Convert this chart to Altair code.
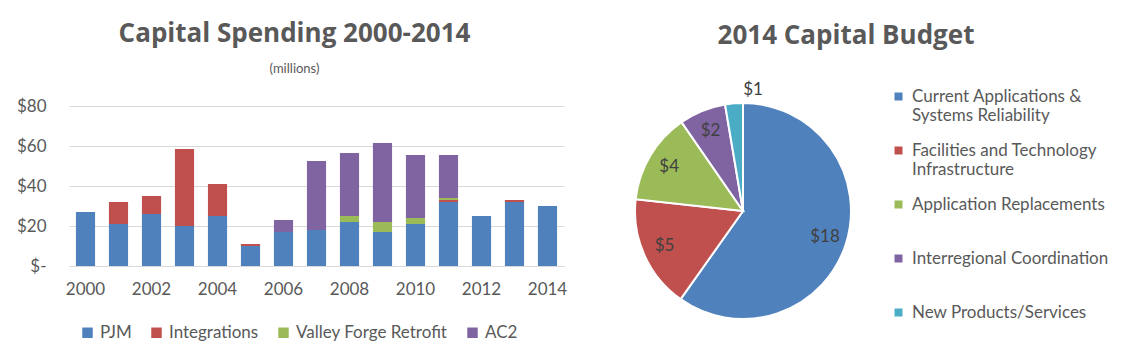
import altair as alt
import pandas as pd

years = [2000, 2001, 2002, 2003, 2004, 2005, 2006, 2007, 2008, 2009, 2010, 2011, 2012, 2013, 2014]
pjm = [27, 21, 26, 20, 25, 10, 17, 18, 22, 17, 21, 32, 25, 32, 30]
integrations = [0, 11, 9, 38.5, 16, 1, 0, 0, 0, 0, 0, 1, 0, 1, 0]
valley_forge = [0, 0, 0, 0, 0, 0, 0, 0, 3, 5, 3, 1, 0, 0, 0]
ac2 = [0, 0, 0, 0, 0, 0, 6, 34.5, 31.5, 39.5, 31.5, 21.5, 0, 0, 0]

series_names = ["PJM", "Integrations", "Valley Forge Retrofit", "AC2"]
series_colors = ["#4F81BD", "#C0504D", "#9BBB59", "#8064A2"]

budget_cats = [
    "Current Applications &\nSystems Reliability",
    "Facilities and Technology\nInfrastructure",
    "Application Replacements",
    "Interregional Coordination",
    "New Products/Services",
]
budget_vals = [18.0, 5.1, 4.1, 2.1, 0.8]
budget_colors = ["#4F81BD", "#C0504D", "#9BBB59", "#8064A2", "#4BACC6"]

FONT = "Lato"
TFONT = "Open Sans"
GREY = "#595959"

rows = []
for si, (name, vals) in enumerate(zip(series_names, [pjm, integrations, valley_forge, ac2])):
    for y, v in zip(years, vals):
        rows.append({"year": y, "series": name, "value": v, "s_order": si})
bar_df = pd.DataFrame(rows)

pie_df = pd.DataFrame({"cat": budget_cats, "value": budget_vals,
                       "idx": list(range(len(budget_cats)))})

bars = alt.Chart(bar_df).mark_bar().encode(
    x=alt.X("year:O", scale=alt.Scale(paddingInner=0.42, paddingOuter=0.21),
            axis=alt.Axis(title=None, labelAngle=0, ticks=False, domainColor="#D9D9D9",
                          labelExpr="datum.value % 2 == 0 ? datum.label : ''",
                          labelFontSize=17, labelColor=GREY, labelPadding=15, labelFont=FONT)),
    y=alt.Y("value:Q", stack="zero", scale=alt.Scale(domain=[0, 80]),
            axis=alt.Axis(title=None, values=[0, 20, 40, 60, 80], domain=False, ticks=False,
                          gridColor="#D9D9D9", labelFontSize=17, labelColor=GREY, labelFont=FONT,
                          labelPadding=23, minExtent=50, maxExtent=50,
                          labelExpr="datum.value == 0 ? '$-\u00a0\u00a0' : '$' + datum.value")),
    color=alt.Color("series:N", scale=alt.Scale(domain=series_names, range=series_colors),
                    legend=alt.Legend(title=None, orient="none", direction="horizontal",
                                      legendX=10, legendY=218, symbolType="square",
                                      symbolSize=110, symbolStrokeWidth=0, labelFontSize=17,
                                      labelColor=GREY, labelFont=FONT, columnPadding=16,
                                      labelOffset=4)),
    order=alt.Order("s_order:Q"),
).properties(
    width=495, height=160,
    title=alt.TitleParams("Capital Spending 2000-2014", subtitle="(millions)", anchor="middle",
                          dx=-22, fontSize=26, font=TFONT, fontWeight="bold", color=GREY,
                          subtitleFontSize=13, subtitleFont=FONT, subtitleColor=GREY,
                          subtitlePadding=16, offset=21),
)

base = alt.Chart(pie_df).encode(
    theta=alt.Theta("value:Q", stack=True),
    order=alt.Order("idx:Q"),
)
arcs = base.mark_arc(outerRadius=108, stroke="white", strokeWidth=2).encode(
    color=alt.Color("cat:N", scale=alt.Scale(domain=budget_cats, range=budget_colors),
                    legend=alt.Legend(title=None, orient="none", legendX=252, legendY=-18,
                                      symbolType="square", symbolSize=64, symbolStrokeWidth=0,
                                      labelFontSize=17, labelColor=GREY, labelFont=FONT,
                                      labelExpr="indexof(datum.label, '\\n') >= 0 ? split(datum.label, '\\n') : [datum.label, '\u00a0']",
                                      labelLimit=300, rowPadding=17, labelOffset=5)),
)
labels = base.transform_calculate(
    r="datum.value < 1 ? 121 : 86"
).mark_text(fontSize=17, font=FONT, color="#404040").encode(
    radius=alt.Radius("r:Q", scale=None),
    text=alt.Text("value:Q", format="$.0f"),
)
pie = alt.layer(arcs, labels).properties(
    width=210, height=210,
    title=alt.TitleParams("2014 Capital Budget", anchor="middle", dx=103, fontSize=26,
                          font=TFONT, fontWeight="bold", color=GREY, offset=32),
)

chart = alt.hconcat(bars, pie, spacing=74, bounds="flush").resolve_scale(
    color="independent", theta="independent"
).configure_view(stroke=None).properties(
    padding={"left": 8, "top": 13, "right": 5, "bottom": 5}
)

chart.save("out.html", embed_options={"renderer": "svg", "actions": False})
